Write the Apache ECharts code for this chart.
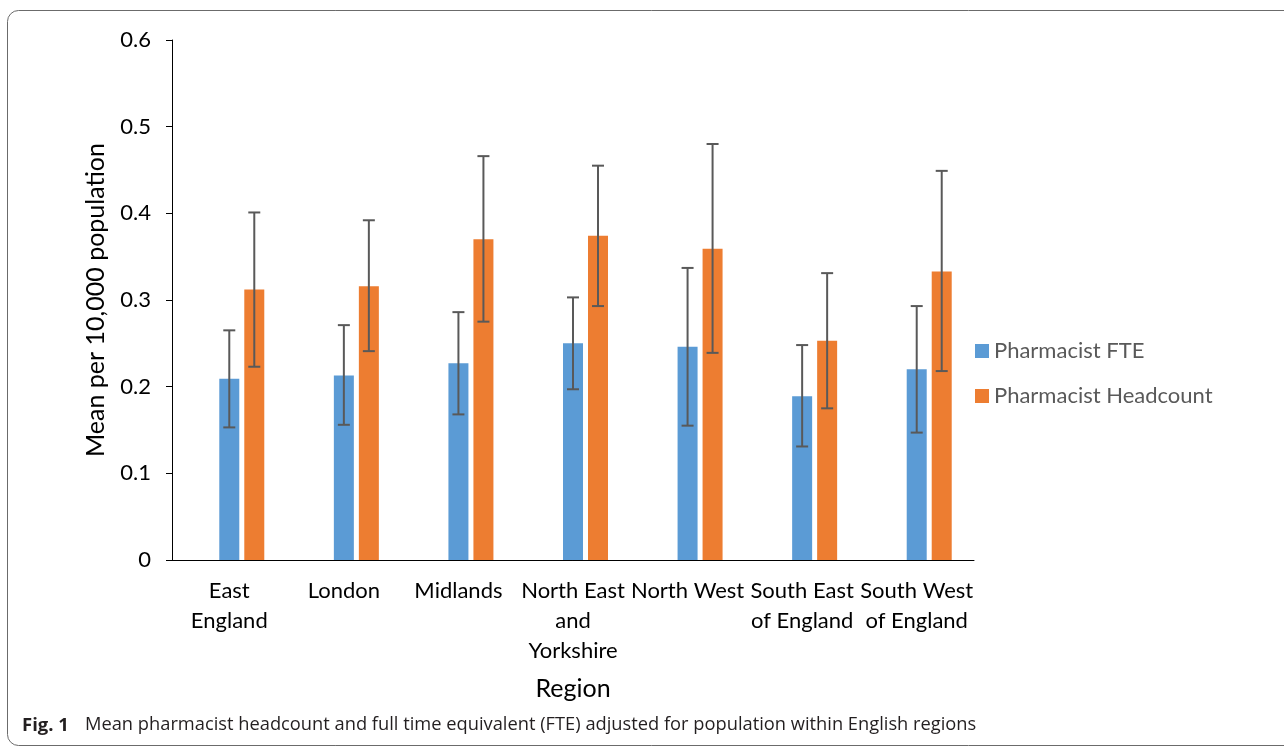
<!DOCTYPE html>
<html>
<head>
<meta charset="utf-8">
<script src="https://cdn.jsdelivr.net/npm/echarts@6/dist/echarts.min.js"></script>
<style>
html,body{margin:0;padding:0;background:#fff;}
#chart{width:1284px;height:747px;}
</style>
</head>
<body>
<div id="chart"></div>
<script>
const categories = ["East\nEngland", "London", "Midlands", "North East\nand\nYorkshire", "North West", "South East\nof England", "South West\nof England"];
const fteMean = [0.209, 0.213, 0.227, 0.250, 0.246, 0.189, 0.220];
const fteLow  = [0.153, 0.156, 0.168, 0.197, 0.155, 0.131, 0.147];
const fteHigh = [0.265, 0.271, 0.286, 0.303, 0.337, 0.248, 0.293];
const hcMean  = [0.312, 0.316, 0.370, 0.374, 0.359, 0.253, 0.333];
const hcLow   = [0.223, 0.241, 0.275, 0.293, 0.239, 0.175, 0.218];
const hcHigh  = [0.401, 0.392, 0.466, 0.455, 0.480, 0.331, 0.449];
const yTicks = [0, 0.1, 0.2, 0.3, 0.4, 0.5, 0.6];

const BAR_W = 20, BAR_GAP = 5;
const chart = echarts.init(document.getElementById('chart'));

function errRender(slot) {
  return function (params, api) {
    const x = api.value(0);
    const lo = api.coord([x, api.value(1)]);
    const hi = api.coord([x, api.value(2)]);
    const cx = lo[0] + slot * (BAR_W + BAR_GAP);
    const cap = 6;
    const st = {stroke: '#595959', lineWidth: 2};
    return {
      type: 'group',
      children: [
        {type: 'line', shape: {x1: cx, y1: lo[1], x2: cx, y2: hi[1]}, style: st},
        {type: 'line', shape: {x1: cx - cap, y1: lo[1], x2: cx + cap, y2: lo[1]}, style: st},
        {type: 'line', shape: {x1: cx - cap, y1: hi[1], x2: cx + cap, y2: hi[1]}, style: st}
      ]
    };
  };
}

const font = 'Lato, "Open Sans", sans-serif';
const capFont = '"Open Sans", sans-serif';
chart.setOption({
  animation: false,
  textStyle: {fontFamily: font},
  grid: {left: 172, right: 310, top: 40, bottom: 187, containLabel: false},
  legend: {
    data: ['Pharmacist FTE', 'Pharmacist Headcount'],
    orient: 'vertical', left: 970, top: 335,
    itemWidth: 14, itemHeight: 14, itemGap: 23, icon: 'rect',
    textStyle: {fontSize: 22, color: '#595959', fontFamily: font}
  },
  xAxis: {
    type: 'category', data: categories,
    name: 'Region', nameLocation: 'middle', nameGap: 116,
    nameTextStyle: {fontSize: 25, color: '#000', fontFamily: font},
    axisLine: {lineStyle: {color: '#000', width: 1}},
    axisTick: {length: 5, lineStyle: {color: '#000'}},
    axisLabel: {fontSize: 22, color: '#000', lineHeight: 30, margin: 16, interval: 0, fontFamily: font}
  },
  yAxis: {
    type: 'value', min: 0, max: 0.6, interval: 0.1,
    name: 'Mean per 10,000 population', nameLocation: 'middle', nameGap: 64,
    nameTextStyle: {fontSize: 25, color: '#000', fontFamily: font},
    axisLine: {show: true, lineStyle: {color: '#000', width: 1}},
    axisTick: {show: true, length: 6, lineStyle: {color: '#000'}},
    splitLine: {show: false},
    axisLabel: {fontSize: 22, color: '#000', margin: 21, fontFamily: font,
      formatter: v => String(yTicks.find(t => Math.abs(t - v) < 1e-9) ?? v)}
  },
  series: [
    {name: 'spacer', type: 'bar', barWidth: BAR_W, barGap: '25%', data: categories.map(() => '-')},
    {name: 'Pharmacist FTE', type: 'bar', barWidth: BAR_W, barGap: '25%', data: fteMean, itemStyle: {color: '#5B9BD5'}},
    {name: 'Pharmacist Headcount', type: 'bar', barWidth: BAR_W, barGap: '25%', data: hcMean, itemStyle: {color: '#ED7D31'}},
    {type: 'custom', renderItem: errRender(0), data: fteMean.map((_, i) => [i, fteLow[i], fteHigh[i]]), z: 10},
    {type: 'custom', renderItem: errRender(1), data: hcMean.map((_, i) => [i, hcLow[i], hcHigh[i]]), z: 10}
  ],
  graphic: [
    {type: 'rect', shape: {x: 7.5, y: 10.5, width: 1300, height: 735, r: 11},
     style: {fill: 'none', stroke: '#6b6b6b', lineWidth: 1}, silent: true},
    {type: 'text', left: 22, top: 716,
     style: {text: 'Fig. 1', fontSize: 18.5, fontWeight: 'bold', fill: '#231f20', fontFamily: capFont}},
    {type: 'text', left: 85, top: 716,
     style: {text: 'Mean pharmacist headcount and full time equivalent (FTE) adjusted for population within English regions',
       fontSize: 18.3, fill: '#231f20', fontFamily: capFont}}
  ]
});
</script>
</body>
</html>
